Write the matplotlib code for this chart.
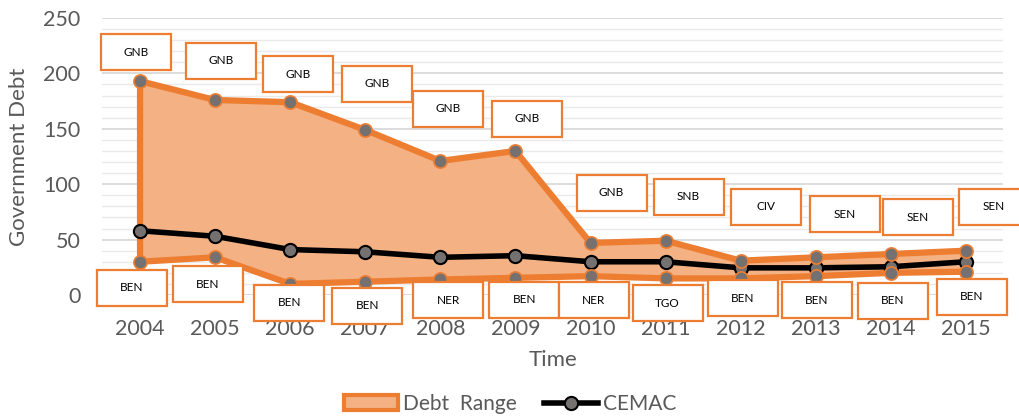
import matplotlib
matplotlib.use("Agg")
import matplotlib.pyplot as plt
import matplotlib.patches as mpatches
import matplotlib.lines as mlines
from matplotlib.transforms import IdentityTransform
from matplotlib.ticker import MultipleLocator
import numpy as np

years = ["2004", "2005", "2006", "2007", "2008", "2009", "2010", "2011", "2012", "2013", "2014", "2015"]
upper = [193, 176, 174, 149, 121, 130, 47, 49, 31, 34, 37, 40]
lower = [30, 34, 10, 12, 14, 15.5, 17, 15, 15, 17, 20, 21]
cemac = [58, 53, 41, 39, 34, 35.5, 30, 30, 24.5, 24.5, 25.5, 30]
upper_labels = ["GNB", "GNB", "GNB", "GNB", "GNB", "GNB", "GNB", "SNB", "CIV", "SEN", "SEN", "SEN"]
lower_labels = ["BEN", "BEN", "BEN", "BEN", "NER", "BEN", "NER", "TGO", "BEN", "BEN", "BEN", "BEN"]

# label box offsets (pixels) relative to the point
upper_off = [(-4, 29), (6, 39), (8, 28), (12, 46), (8, 52), (12, 32), (21, 50), (23, 44), (25, 54), (29, 43), (27, 37), (28, 44)]
lower_off = [(-8, -26), (-7, -27), (-1, -19), (2, -24), (8, -21), (9, -22), (3, -24), (2, -25), (2, -20), (1, -24), (2, -28), (6, -25)]

ORANGE = "#ED7D31"
FILL = "#F4B183"
GRAYM = "#767171"
TXT = "#595959"

plt.rcParams['font.family'] = ['Lato', 'DejaVu Sans']

W, H = 1020, 419
fig = plt.figure(figsize=(W / 100, H / 100), dpi=100)
ax = fig.add_axes([102.5 / W, 124 / H, 901 / W, 277 / H])
x = np.arange(len(years))
ax.set_xlim(-0.5, len(years) - 0.5)
ax.set_ylim(0, 250)
ax.set_xticks(x)
ax.set_xticklabels(years)
ax.yaxis.set_major_locator(MultipleLocator(50))
ax.yaxis.set_minor_locator(MultipleLocator(10))
ax.grid(which='major', axis='y', color='#d9d9d9', lw=1.3, zorder=0)
ax.grid(which='minor', axis='y', color='#eaeaea', lw=1.0, zorder=0)
ax.set_axisbelow(True)
for s in ax.spines.values():
    s.set_visible(False)
ax.tick_params(axis='both', which='both', length=0, labelsize=15.5, labelcolor=TXT)
ax.tick_params(axis='x', pad=17)
ax.tick_params(axis='y', pad=16)

# range polygon
xs = np.concatenate([x, x[::-1]])
ys = np.concatenate([upper, lower[::-1]])
ax.fill(xs, ys, facecolor=FILL, edgecolor=ORANGE, lw=4.5, joinstyle='round', zorder=2)

ax.plot(x, cemac, color='black', lw=4, marker='o', ms=9.5, mfc=GRAYM, mec='black', mew=1.5, zorder=4)
ax.plot(x, upper, ls='none', marker='o', ms=9.5, mfc=GRAYM, mec=ORANGE, mew=1.2, zorder=5)
ax.plot(x, lower, ls='none', marker='o', ms=9.5, mfc=GRAYM, mec=ORANGE, mew=1.2, zorder=5)

ax.set_ylabel("Government Debt", fontsize=16, color=TXT)
ax.yaxis.set_label_coords(-0.082, 0.5)
ax.set_xlabel("Time", fontsize=16, color=TXT)
ax.xaxis.set_label_coords(0.5, -0.198)

bw, bh = 70, 36
def add_box(xi, yi, lab, off):
    px, py = ax.transData.transform((xi, yi))
    cx, cy = px + off[0], py + off[1]
    r = mpatches.Rectangle((cx - bw / 2, cy - bh / 2), bw, bh, transform=IdentityTransform(),
                           facecolor='white', edgecolor=ORANGE, lw=1.6, zorder=10)
    fig.add_artist(r)
    fig.text(cx, cy, lab, transform=IdentityTransform(), ha='center', va='center',
             fontsize=8.5, color='black', zorder=11)

for i in range(len(years)):
    add_box(x[i], upper[i], upper_labels[i], upper_off[i])
    add_box(x[i], lower[i], lower_labels[i], lower_off[i])

handles = [mpatches.Patch(facecolor=FILL, edgecolor=ORANGE, lw=3, label="Debt  Range"),
           mlines.Line2D([], [], color='black', lw=4, marker='o', ms=9.5, mfc=GRAYM, mec='black', mew=1.5, label="CEMAC")]
leg = fig.legend(handles=handles, loc='center', bbox_to_anchor=(0.5, 15 / H), ncol=2, frameon=False,
                 fontsize=15, handlelength=2.6, handletextpad=0.25, columnspacing=1.3)
for t in leg.get_texts():
    t.set_color(TXT)

fig.savefig("out.png", dpi=100)
